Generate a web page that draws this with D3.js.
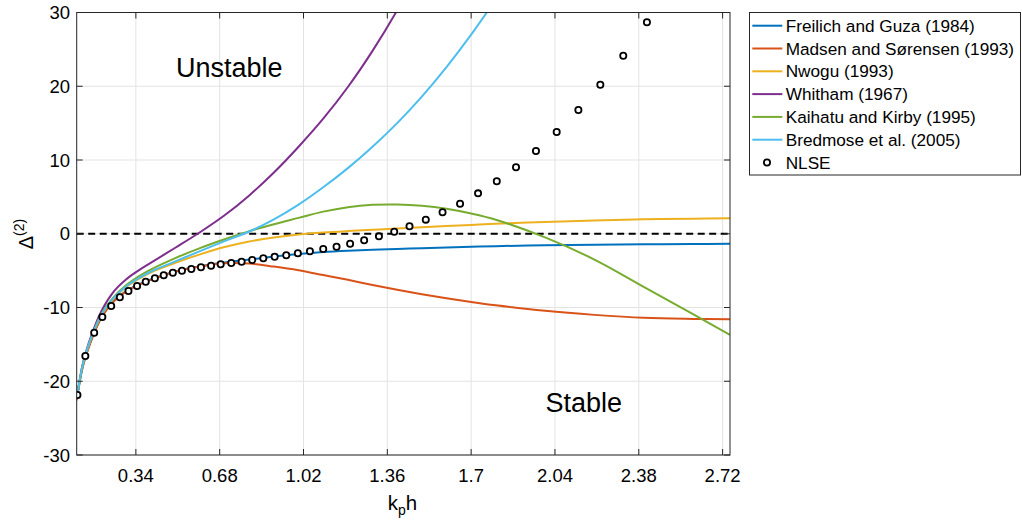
<!DOCTYPE html>
<html>
<head>
<meta charset="utf-8">
<script src="https://cdn.jsdelivr.net/npm/d3@7"></script>
<style>
  html, body { margin: 0; padding: 0; background: #fff; }
  svg { display: block; font-family: "Liberation Sans", Arial, Helvetica, sans-serif; }
</style>
</head>
<body>
<svg id="chart" width="1022" height="526"></svg>
<script>
// ---- data ----
const kh = [0.1, 0.125, 0.15, 0.2, 0.25, 0.3, 0.35, 0.4, 0.5, 0.6, 0.7, 0.8, 0.9, 1.0, 1.1, 1.2, 1.3, 1.4, 1.5, 1.6, 1.7, 1.8, 2.0, 2.2, 2.4, 2.6, 2.75];

const freilich = [-22.4, -17.9, -15.2, -11.3, -9.1, -7.8, -6.9, -6.2, -5.1, -4.4, -3.9, -3.5, -3.1, -2.75, -2.48, -2.3, -2.17, -2.07, -1.95, -1.85, -1.76, -1.68, -1.56, -1.48, -1.42, -1.39, -1.37];
const madsen   = [-22.6, -18.0, -15.3, -11.4, -9.2, -7.85, -6.95, -6.25, -5.15, -4.45, -4.0, -4.05, -4.45, -4.95, -5.6, -6.25, -6.95, -7.6, -8.2, -8.75, -9.25, -9.7, -10.45, -11.0, -11.4, -11.55, -11.6];
const nwogu    = [-22.4, -17.8, -15.0, -11.05, -8.8, -7.25, -6.15, -5.25, -3.95, -2.8, -1.8, -1.05, -0.5, -0.1, 0.17, 0.37, 0.54, 0.7, 0.88, 1.05, 1.2, 1.35, 1.6, 1.8, 1.95, 2.05, 2.1];
const whitham  = [-22.4, -17.6, -14.7, -10.5, -7.85, -6.2, -5.0, -3.95, -1.9, 0.2, 2.5, 5.2, 8.3, 11.8, 15.6, 19.9, 24.8, 30.3, 36.5, 43.5, 50.5, 58.0, 74.0, 92.0, 112.0, 134.0, 152.0];
const kaihatu  = [-22.4, -17.7, -14.9, -10.9, -8.6, -7.0, -5.8, -4.85, -3.3, -1.95, -0.75, 0.35, 1.3, 2.15, 3.0, 3.6, 3.92, 3.97, 3.8, 3.4, 2.75, 1.9, -0.5, -3.5, -7.2, -10.9, -13.7];
const bredmose = [-22.4, -17.7, -14.9, -11.0, -8.7, -7.15, -6.05, -5.15, -3.75, -2.35, -1.0, 0.3, 1.95, 3.95, 6.3, 8.9, 11.8, 15.0, 18.6, 22.6, 27.0, 31.8, 42.0, 54.0, 67.0, 81.0, 92.0];

const nlseKh = [0.103, 0.135, 0.171, 0.204, 0.240, 0.275, 0.310, 0.345, 0.380, 0.417, 0.453, 0.490, 0.527, 0.565, 0.604, 0.645, 0.684, 0.727, 0.769, 0.812, 0.857, 0.903, 0.950, 0.997, 1.046, 1.100, 1.154, 1.209, 1.266, 1.326, 1.388, 1.450, 1.516, 1.584, 1.655, 1.728, 1.804, 1.882, 1.963, 2.047, 2.135, 2.224, 2.317, 2.413];
const nlse   = [-21.86, -16.58, -13.42, -11.29, -9.80, -8.62, -7.76, -7.08, -6.50, -6.04, -5.63, -5.28, -5.01, -4.78, -4.55, -4.33, -4.14, -3.97, -3.79, -3.56, -3.33, -3.11, -2.92, -2.65, -2.38, -2.07, -1.77, -1.35, -0.89, -0.35, 0.28, 1.01, 1.91, 2.91, 4.07, 5.48, 7.11, 9.01, 11.22, 13.80, 16.78, 20.21, 24.14, 28.67];

const xTicks = [0.34, 0.68, 1.02, 1.36, 1.7, 2.04, 2.38, 2.72];
const yTicks = [-30, -20, -10, 0, 10, 20, 30];

const seriesNames = ["Freilich and Guza (1984)", "Madsen and Sørensen (1993)", "Nwogu (1993)", "Whitham (1967)", "Kaihatu and Kirby (1995)", "Bredmose et al. (2005)"];
const seriesValues = [freilich, madsen, nwogu, whitham, kaihatu, bredmose];
const seriesColors = ["#0072BD", "#D95319", "#EDB120", "#7E2F8E", "#77AC30", "#4DBEEE"];

// ---- chart ----
const svg = d3.select("#chart");
const L = 76.7, R = 730, T = 12.5, B = 455;
const x = d3.scaleLinear().domain([0.1, 2.75]).range([L, R]);
const y = d3.scaleLinear().domain([-30, 30]).range([B, T]);
const textColor = "#000";
const axisColor = "#262626";

// grid
const grid = svg.append("g");
grid.selectAll("line.gx").data(xTicks).join("line")
  .attr("x1", d => x(d)).attr("x2", d => x(d)).attr("y1", T).attr("y2", B)
  .attr("stroke", "#e3e3e3").attr("stroke-width", 1);
grid.selectAll("line.gy").data(yTicks).join("line")
  .attr("x1", L).attr("x2", R).attr("y1", d => y(d)).attr("y2", d => y(d))
  .attr("stroke", "#e3e3e3").attr("stroke-width", 1);

svg.append("defs").append("clipPath").attr("id", "clip")
  .append("rect").attr("x", L).attr("y", T).attr("width", R - L).attr("height", B - T);

const plot = svg.append("g").attr("clip-path", "url(#clip)");

// zero dashed line
plot.append("line")
  .attr("x1", L).attr("x2", R).attr("y1", y(0)).attr("y2", y(0))
  .attr("stroke", "#000").attr("stroke-width", 1.8).attr("stroke-dasharray", "7,4.5");

const line = d3.line().x(d => x(d[0])).y(d => y(d[1])).curve(d3.curveCatmullRom.alpha(0.5));
seriesValues.forEach((vals, i) => {
  plot.append("path")
    .datum(kh.map((k, j) => [k, vals[j]]))
    .attr("d", line)
    .attr("fill", "none")
    .attr("stroke", seriesColors[i])
    .attr("stroke-width", 2);
});

// NLSE markers
plot.selectAll("circle.nlse").data(nlseKh.map((k, j) => [k, nlse[j]])).join("circle")
  .attr("cx", d => x(d[0])).attr("cy", d => y(d[1])).attr("r", 3.1)
  .attr("fill", "#fff").attr("stroke", "#000").attr("stroke-width", 1.8);

// axes box
const ax = svg.append("g");
ax.append("rect").attr("x", L).attr("y", T).attr("width", R - L).attr("height", B - T)
  .attr("fill", "none").attr("stroke", axisColor).attr("stroke-width", 1);

const tl = 6;
xTicks.forEach(t => {
  ax.append("line").attr("x1", x(t)).attr("x2", x(t)).attr("y1", B).attr("y2", B - tl).attr("stroke", axisColor);
  ax.append("line").attr("x1", x(t)).attr("x2", x(t)).attr("y1", T).attr("y2", T + tl).attr("stroke", axisColor);
});
yTicks.forEach(t => {
  ax.append("line").attr("x1", L).attr("x2", L + tl).attr("y1", y(t)).attr("y2", y(t)).attr("stroke", axisColor);
  ax.append("line").attr("x1", R).attr("x2", R - tl).attr("y1", y(t)).attr("y2", y(t)).attr("stroke", axisColor);
});

ax.selectAll("text.xt").data(xTicks).join("text")
  .attr("x", d => x(d)).attr("y", 481.7)
  .attr("text-anchor", "middle").attr("font-size", 18.5).attr("fill", textColor)
  .text(d => String(d));
ax.selectAll("text.yt").data(yTicks).join("text")
  .attr("x", 70).attr("y", d => y(d) + 6.7)
  .attr("text-anchor", "end").attr("font-size", 18.5).attr("fill", textColor)
  .text(d => String(d));

// x label k_p h
const xl = svg.append("text").attr("x", 402.5).attr("y", 510)
  .attr("text-anchor", "middle").attr("font-size", 20.5).attr("fill", textColor);
xl.append("tspan").text("k");
xl.append("tspan").attr("dy", 5).attr("font-size", 14).text("p");
xl.append("tspan").attr("dy", -5).text("h");

// y label Δ^(2)
const yl = svg.append("text").attr("transform", "translate(33,234) rotate(-90)")
  .attr("text-anchor", "middle").attr("font-size", 20).attr("fill", textColor);
yl.append("tspan").text("Δ");
yl.append("tspan").attr("dy", -9).attr("font-size", 14).text("(2)");

// annotations
svg.append("text").attr("x", 229.3).attr("y", 76.7).attr("text-anchor", "middle")
  .attr("font-size", 27).attr("fill", textColor).text("Unstable");
svg.append("text").attr("x", 583.8).attr("y", 411.7).attr("text-anchor", "middle")
  .attr("font-size", 27).attr("fill", textColor).text("Stable");

// legend
const lg = svg.append("g");
lg.append("rect").attr("x", 749.5).attr("y", 12.5).attr("width", 271).attr("height", 162.5)
  .attr("fill", "#fff").attr("stroke", axisColor).attr("stroke-width", 1);
const rowY = i => 25.7 + i * 22.8;
seriesNames.forEach((name, i) => {
  lg.append("line").attr("x1", 752.3).attr("x2", 782.3).attr("y1", rowY(i)).attr("y2", rowY(i))
    .attr("stroke", seriesColors[i]).attr("stroke-width", 2);
  lg.append("text").attr("x", 785.7).attr("y", rowY(i) + 6).attr("font-size", 17.2)
    .attr("fill", textColor).text(name);
});
lg.append("circle").attr("cx", 767).attr("cy", rowY(6)).attr("r", 3.1)
  .attr("fill", "#fff").attr("stroke", "#000").attr("stroke-width", 1.8);
lg.append("text").attr("x", 785.7).attr("y", rowY(6) + 6).attr("font-size", 17.2)
  .attr("fill", textColor).text("NLSE");
</script>
</body>
</html>
